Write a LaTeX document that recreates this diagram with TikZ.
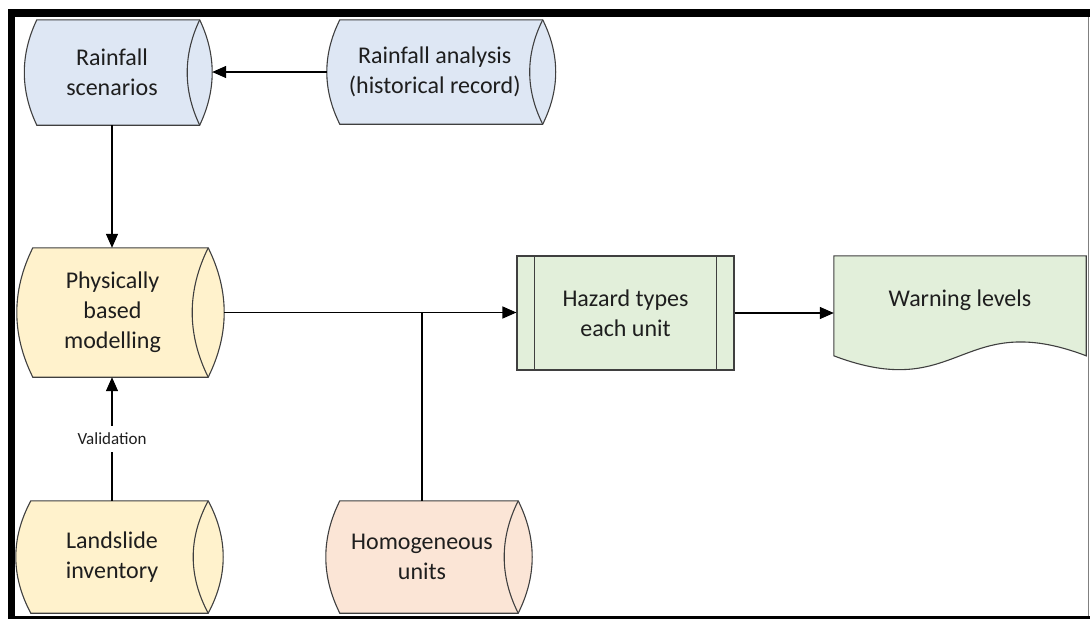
\documentclass[tikz,border=0pt]{standalone}
\usepackage{fontspec}
\setmainfont{Carlito}
\usetikzlibrary{calc,arrows.meta,backgrounds}

\definecolor{edge}{HTML}{3F3F3F}
\definecolor{ink}{HTML}{1E1E1E}
\definecolor{rainblue}{HTML}{DEE7F4}
\definecolor{modelcream}{HTML}{FFF2CC}
\definecolor{unitpeach}{HTML}{FBE5D6}
\definecolor{outgreen}{HTML}{E2EFDA}

\tikzset{
  boxtext/.style={font=\fontsize{24}{30}\selectfont, text=ink, align=center, inner sep=0pt},
  flowline/.style={line width=1.3pt, black},
  flowarrow/.style={flowline, -{Triangle[length=14pt,width=12pt]}},
  outline/.style={draw=edge, line width=1.1pt},
}

% Stored-data outline behind node #1: fill #2, arc bulge #3 (pt).
% The node spans from the left corners to the inner right arc.
\newcommand\storedshape[3]{%
  \begin{scope}[on background layer]
  \path[outline, fill=#2]
    let \p1=(#1.north west), \p2=(#1.south west), \p3=(#1.north east), \p4=(#1.south east) in
    (\p1) -- ({\x3+#3pt},\y3)
    .. controls ({\x3+#3pt+4/3*#3pt},{(2*\y3+\y4)/3}) and ({\x4+#3pt+4/3*#3pt},{(\y3+2*\y4)/3}) .. ({\x4+#3pt},\y4)
    -- (\p2)
    .. controls ({\x2-4/3*#3pt},{(\y1+2*\y2)/3}) and ({\x1-4/3*#3pt},{(2*\y1+\y2)/3}) .. cycle;
  \path[outline]
    let \p3=(#1.north east), \p4=(#1.south east) in
    ({\x3+#3pt},\y3) .. controls ({\x3+#3pt-4/3*#3pt},{(2*\y3+\y4)/3}) and ({\x4+#3pt-4/3*#3pt},{(\y3+2*\y4)/3}) .. ({\x4+#3pt},\y4);
  \end{scope}
  \coordinate (#1-l) at ($(#1.west)+(-#3pt,0)$);
  \coordinate (#1-r) at ($(#1.east)+({2*#3pt},0)$);
}

\begin{document}
\begin{tikzpicture}[x=1pt, y=-1pt]
\useasboundingbox (0,0) rectangle (1090,619);

% data stores
\node[boxtext, minimum width=150pt, minimum height=105pt] (rs) at (112,72.5) {Rainfall\\scenarios};
\storedshape{rs}{rainblue}{12.5}

\node[boxtext, minimum width=189.5pt, minimum height=104pt] (ra) at (434.75,72) {Rainfall analysis\\(historical record)};
\storedshape{ra}{rainblue}{13}

\node[boxtext, minimum width=159pt, minimum height=129pt] (pbm) at (112.5,312.5) {Physically\\based\\modelling};
\storedshape{pbm}{modelcream}{16}

\node[boxtext, minimum width=162pt, minimum height=112pt] (li) at (112,557) {Landslide\\inventory};
\storedshape{li}{modelcream}{15}

\node[boxtext, minimum width=164pt, minimum height=112pt] (hu) at (422,557) {Homogeneous\\units};
\storedshape{hu}{unitpeach}{14}

% predefined process
\node[boxtext, outline, fill=outgreen, minimum width=217pt, minimum height=114pt] (ht) at (625.5,313) {Hazard types\\each unit};
\draw[outline] ($(ht.north west)+(18,0)$) -- ($(ht.south west)+(18,0)$);
\draw[outline] ($(ht.north east)+(-18,0)$) -- ($(ht.south east)+(-18,0)$);

% document shape
\node[boxtext, minimum width=252pt, minimum height=88pt] (wl) at (960,300) {Warning levels};
\begin{scope}[on background layer]
\path[outline, fill=outgreen]
  let \p1=(wl.north west), \p2=(wl.north east) in
  (\p1) -- (\p2) -- (\x2,{\y1-100pt})
  .. controls ({(\x1+\x2)/2},{\y1-52pt}) and ({(\x1+\x2)/2},{\y1-148pt}) .. (\x1,{\y1-100pt})
  -- cycle;
\end{scope}

% connectors
\draw[flowarrow] (ra-l) -- (ra-l -| rs-r);
\draw[flowarrow] (rs.south) -- (rs.south |- pbm.north);
\draw[flowarrow] (li.north) -- (li.north |- pbm.south)
  node[midway, fill=white, text=ink, font=\fontsize{17}{20}\selectfont, inner xsep=2pt, inner ysep=7pt] {Validation};
\draw[flowarrow] (pbm-r) -- (pbm-r -| ht.west);
\draw[flowline] (hu.north) -- (hu.north |- pbm-r);
\draw[flowarrow] (ht.east) -- (ht.east -| wl.west);

% frame
\fill[black] (8,9) rectangle (1090,17);
\fill[black] (8,9) rectangle (15,619);
\fill[black] (8,616) rectangle (1090,619);
\draw[gray, line width=1pt] (1088.5,17) -- (1088.5,616);
\end{tikzpicture}
\end{document}
